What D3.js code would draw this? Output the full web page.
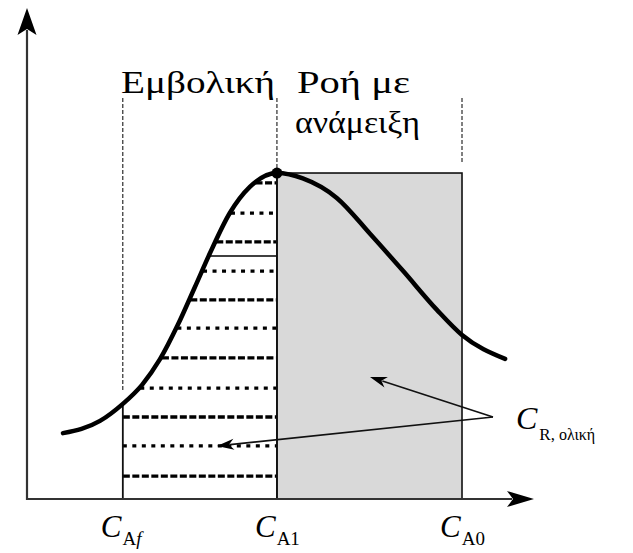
<!DOCTYPE html>
<html><head><meta charset="utf-8">
<script src="https://cdn.jsdelivr.net/npm/d3@7"></script>
<style>
html,body{margin:0;padding:0;background:#fff;}
svg{display:block;}
text{font-family:"Liberation Serif","Times New Roman",serif;fill:#000;}
</style></head>
<body>
<svg id="chart" width="633" height="553"></svg>
<script>
// ---- data ----
const curveX = [7.1, 14.4, 18.9, 22.7, 26.2, 29.8, 33.1, 36.1, 40.0, 44.0, 49.3, 54.4, 61.1, 67.7, 74.2, 80.9, 85.8, 94.3];
const curveY = [13.5, 16.0, 19.5, 23.4, 28.6, 35.8, 43.4, 50.4, 58.6, 64.0, 66.8, 65.7, 61.7, 54.3, 46.7, 38.7, 33.6, 28.7];
const concNames = ["Af", "A1", "A0"];
const concX = [18.9, 49.3, 85.8];
const peakY = 66.8;
const hatchY = [64.8, 58.6, 52.7, 46.7, 40.8, 35.0, 28.9, 22.7, 16.8, 10.9, 4.7];
const solidY = [49.8];
const regionLabels = [["Εμβολική"], ["Ροή με", "ανάμειξη"]];
const totalLabel = {main: "C", sub1: "R,", sub2: " ολική"};

// ---- scales ----
const x = d3.scaleLinear().domain([0, 100]).range([27, 534]);
const y = d3.scaleLinear().domain([0, 100]).range([499, 11]);
const svg = d3.select("#chart");

// gray CSTR rectangle
svg.append("rect")
  .attr("x", x(concX[1])).attr("y", y(peakY))
  .attr("width", x(concX[2]) - x(concX[1])).attr("height", y(0) - y(peakY))
  .attr("fill", "#d9d9d9").attr("stroke", "#111").attr("stroke-width", 1.6);

// curve path (for intersections)
const line = d3.line().x((d, i) => x(curveX[i])).y(d => y(d)).curve(d3.curveMonotoneX);
const curvePath = svg.append("path").attr("d", line(curveY))
  .attr("fill", "none").attr("stroke", "none");
const node = curvePath.node();
const L = node.getTotalLength();
const samples = d3.range(0, L, 0.5).map(l => node.getPointAtLength(l));
function leftXAt(py) {
  for (const p of samples) { if (p.y <= py) return p.x; }
  return x(concX[1]);
}
function curveYAt(px) {
  let best = samples[0];
  for (const p of samples) { if (Math.abs(p.x - px) < Math.abs(best.x - px)) best = p; }
  return best.y;
}

// hatch lines (PFR)
hatchY.forEach((v, i) => {
  const py = y(v);
  const x0 = Math.max(x(concX[0]), leftXAt(py) + 1);
  svg.append("line")
    .attr("x1", x0).attr("x2", x(concX[1]))
    .attr("y1", py).attr("y2", py)
    .attr("stroke", "#000").attr("stroke-width", 3.3)
    .attr("stroke-dasharray", i % 2 === 0 ? "7,2.5" : "4,5.5");
});
solidY.forEach(v => {
  const py = y(v);
  svg.append("line").attr("x1", leftXAt(py)).attr("x2", x(concX[1]))
    .attr("y1", py).attr("y2", py).attr("stroke", "#000").attr("stroke-width", 1.4);
});

// PFR rectangle outline (left & bottom) and middle line
svg.append("path")
  .attr("d", `M${x(concX[0])},${curveYAt(x(concX[0]))}V${y(0)}H${x(concX[1])}V${y(peakY)}`)
  .attr("fill", "none").attr("stroke", "#111").attr("stroke-width", 1.8);

// dashed vertical guides
const guideTop = 98;
const guideBottoms = [390, y(peakY), 163];
concX.forEach((c, i) => {
  svg.append("line").attr("x1", x(c)).attr("x2", x(c))
    .attr("y1", guideTop).attr("y2", guideBottoms[i])
    .attr("stroke", "#000").attr("stroke-width", 1).attr("stroke-dasharray", "4,2");
});

// the curve
svg.append("path").attr("d", line(curveY))
  .attr("fill", "none").attr("stroke", "#000").attr("stroke-width", 4.5).attr("stroke-linecap", "round");

// peak dot
svg.append("circle").attr("cx", x(concX[1])).attr("cy", y(peakY)).attr("r", 5.5).attr("fill", "#000");

// axes
const axisColor = "#333";
svg.append("line").attr("x1", x(0)).attr("x2", x(0)).attr("y1", y(0) + 1).attr("y2", 30)
  .attr("stroke", axisColor).attr("stroke-width", 2.2);
svg.append("line").attr("x1", x(0) - 1).attr("x2", 512).attr("y1", y(0)).attr("y2", y(0))
  .attr("stroke", axisColor).attr("stroke-width", 2.2);
const ax = x(0), ay = y(0);
svg.append("path").attr("d", `M${ax},8 L${ax + 9.5},35 L${ax},29 L${ax - 9.5},35 Z`).attr("fill", "#000");
svg.append("path").attr("d", `M534,${ay} L507,${ay - 8} L513,${ay} L507,${ay + 8} Z`).attr("fill", "#000");

// x labels
concNames.forEach((n, i) => {
  const t = svg.append("text").attr("x", x(concX[i]) - 22).attr("y", 537)
    .attr("font-size", 31);
  t.append("tspan").attr("font-style", "italic").text("C");
  t.append("tspan").attr("font-size", 19).attr("dy", 8).attr("dx", 1).text(n.slice(0, 1));
  t.append("tspan").attr("font-style", n.slice(1) === "f" ? "italic" : "normal").attr("font-size", 19).text(n.slice(1));
});

// region labels
svg.append("text").attr("x", 121).attr("y", 93).attr("font-size", 31)
  .attr("textLength", 154).attr("lengthAdjust", "spacingAndGlyphs")
  .text(regionLabels[0][0]);
const starts = [297, 295], lens = [113, 125];
regionLabels[1].forEach((s, i) => {
  svg.append("text").attr("x", starts[i]).attr("y", 93 + i * 40).attr("font-size", 31)
    .attr("textLength", lens[i]).attr("lengthAdjust", "spacingAndGlyphs").text(s);
});

// arrows to C_R total
const origin = [493, 417];
const targets = [[370, 377], [217, 446]];
targets.forEach(t => {
  const dx = t[0] - origin[0], dy = t[1] - origin[1];
  const len = Math.hypot(dx, dy), ux = dx / len, uy = dy / len;
  const hl = 17, hw = 5.5;
  const bx = t[0] - ux * hl, by = t[1] - uy * hl;
  svg.append("line").attr("x1", origin[0]).attr("y1", origin[1]).attr("x2", bx + ux * 4).attr("y2", by + uy * 4)
    .attr("stroke", "#111").attr("stroke-width", 1.6);
  svg.append("path")
    .attr("d", `M${t[0]},${t[1]} L${bx - uy * hw},${by + ux * hw} L${bx + ux * 5},${by + uy * 5} L${bx + uy * hw},${by - ux * hw} Z`)
    .attr("fill", "#000");
});
const cr = svg.append("text").attr("x", 516).attr("y", 429).attr("font-size", 32);
cr.append("tspan").attr("font-style", "italic").text(totalLabel.main);
cr.append("tspan").attr("font-size", 17).attr("dy", 11).attr("dx", 2).text(totalLabel.sub1);
cr.append("tspan").attr("font-size", 16).text(totalLabel.sub2);
</script>
</body></html>
